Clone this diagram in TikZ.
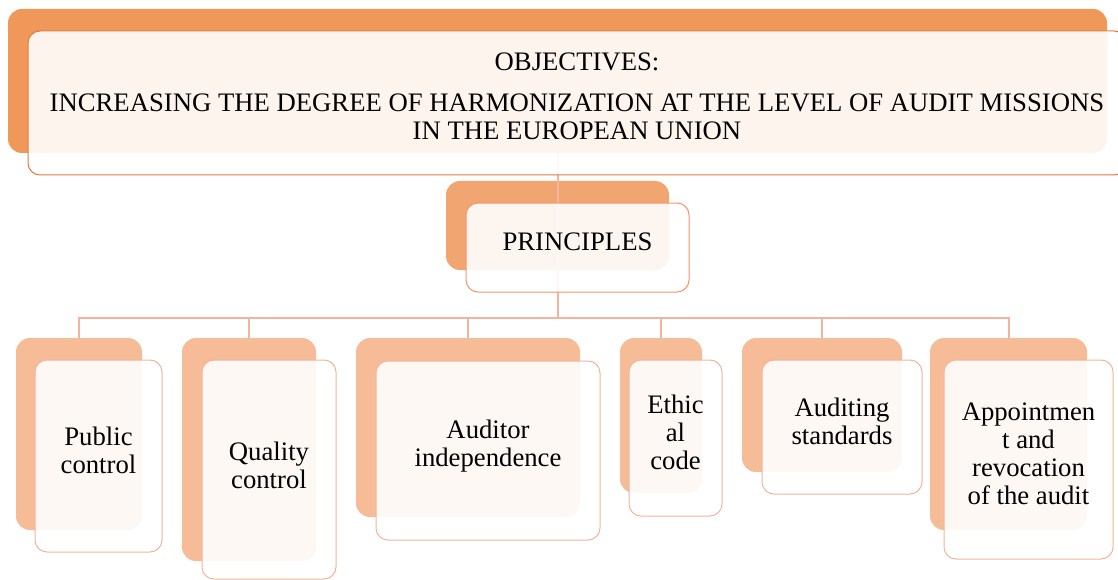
\documentclass[tikz,border=0pt]{standalone}
\usepackage{fontspec}
\setmainfont{Liberation Serif}
\definecolor{objback}{RGB}{240,152,90}
\definecolor{objline}{RGB}{226,124,62}
\definecolor{prinback}{RGB}{241,165,112}
\definecolor{prinline}{RGB}{244,150,106}
\definecolor{leafback}{RGB}{245,188,151}
\definecolor{leafline}{RGB}{242,180,156}
\definecolor{wire}{RGB}{243,180,158}

\begin{document}
\begin{tikzpicture}[x=1pt, y=-1pt,
  back/.style={rectangle, rounded corners=14pt, inner sep=0pt, outer sep=0pt},
  front/.style={rectangle, rounded corners=12pt, inner sep=0pt, outer sep=0pt,
    draw, line width=1pt, fill=white, fill opacity=0.9},
  txt/.style={align=center, font=\fontsize{26.7}{28}\selectfont},
  wire/.style={draw=wire, line width=2pt}]
  \useasboundingbox (0,0) rectangle (1118,580);
  \clip (0,0) rectangle (1118,580);

  \coordinate (BUS) at (557.5,318);

  % back boxes
  \node[back, fill=objback, minimum width=1099pt, minimum height=144pt] (OBJb) at (557.5,81) {};
  \node[back, fill=prinback, minimum width=223pt, minimum height=89pt] (PRINb) at (557.5,225.5) {};
  \node[back, fill=leafback, minimum width=126pt, minimum height=192pt] (PUBb) at (79,434) {};
  \node[back, fill=leafback, minimum width=134pt, minimum height=223pt] (QUALb) at (249,449.5) {};
  \node[back, fill=leafback, minimum width=224pt, minimum height=179pt] (INDb) at (468,427.5) {};
  \node[back, fill=leafback, minimum width=82pt, minimum height=155pt] (ETHb) at (661,415.5) {};
  \node[back, fill=leafback, minimum width=160pt, minimum height=134pt] (STDb) at (822,405) {};
  \node[back, fill=leafback, minimum width=157pt, minimum height=192pt] (APPb) at (1008.5,434) {};

  % connectors
  \draw[wire] (OBJb.south) -- (BUS);
  \draw[wire] (BUS) -| (PUBb.north);
  \draw[wire] (BUS) -| (QUALb.north);
  \draw[wire] (BUS) -| (INDb.north);
  \draw[wire] (BUS) -| (ETHb.north);
  \draw[wire] (BUS) -| (STDb.north);
  \draw[wire] (BUS) -| (APPb.north);

  % front boxes
  \node[front, draw=objline, minimum width=1098pt, minimum height=144pt] (OBJ) at (577,103) {};
  \node[front, draw=prinline, minimum width=223pt, minimum height=89pt] (PRIN) at (577.5,247.5) {};
  \node[front, draw=leafline, minimum width=127pt, minimum height=192pt] (PUB) at (98.5,456) {};
  \node[front, draw=leafline, minimum width=134pt, minimum height=219pt] (QUAL) at (269,469.5) {};
  \node[front, draw=leafline, minimum width=224pt, minimum height=179pt] (IND) at (488,450.5) {};
  \node[front, draw=leafline, minimum width=93pt, minimum height=156pt] (ETH) at (675.5,438) {};
  \node[front, draw=leafline, minimum width=160pt, minimum height=134pt] (STD) at (842,427) {};
  \node[front, draw=leafline, minimum width=169pt, minimum height=199pt] (APP) at (1028.5,459.5) {};

  % texts
  \node[txt] (OBJt) at ([yshift=7pt]OBJ.center) {OBJECTIVES:\\[13pt]INCREASING THE DEGREE OF HARMONIZATION AT THE LEVEL OF AUDIT MISSIONS\\IN THE EUROPEAN UNION};
  \node[txt] (PRINt) at ([yshift=6pt]PRIN.center) {PRINCIPLES};
  \node[txt] (PUBt) at ([yshift=6pt]PUB.center) {Public\\control};
  \node[txt] (QUALt) at ([yshift=4pt]QUAL.center) {Quality\\control};
  \node[txt] (INDt) at ([yshift=4pt]IND.center) {Auditor\\independence};
  \node[txt] (ETHt) at ([yshift=6pt]ETH.center) {Ethic\\al\\code};
  \node[txt] (STDt) at ([yshift=6pt]STD.center) {Auditing\\standards};
  \node[txt] (APPt) at ([yshift=6pt]APP.center) {Appointmen\\t and\\revocation\\of the audit};
\end{tikzpicture}
\end{document}
